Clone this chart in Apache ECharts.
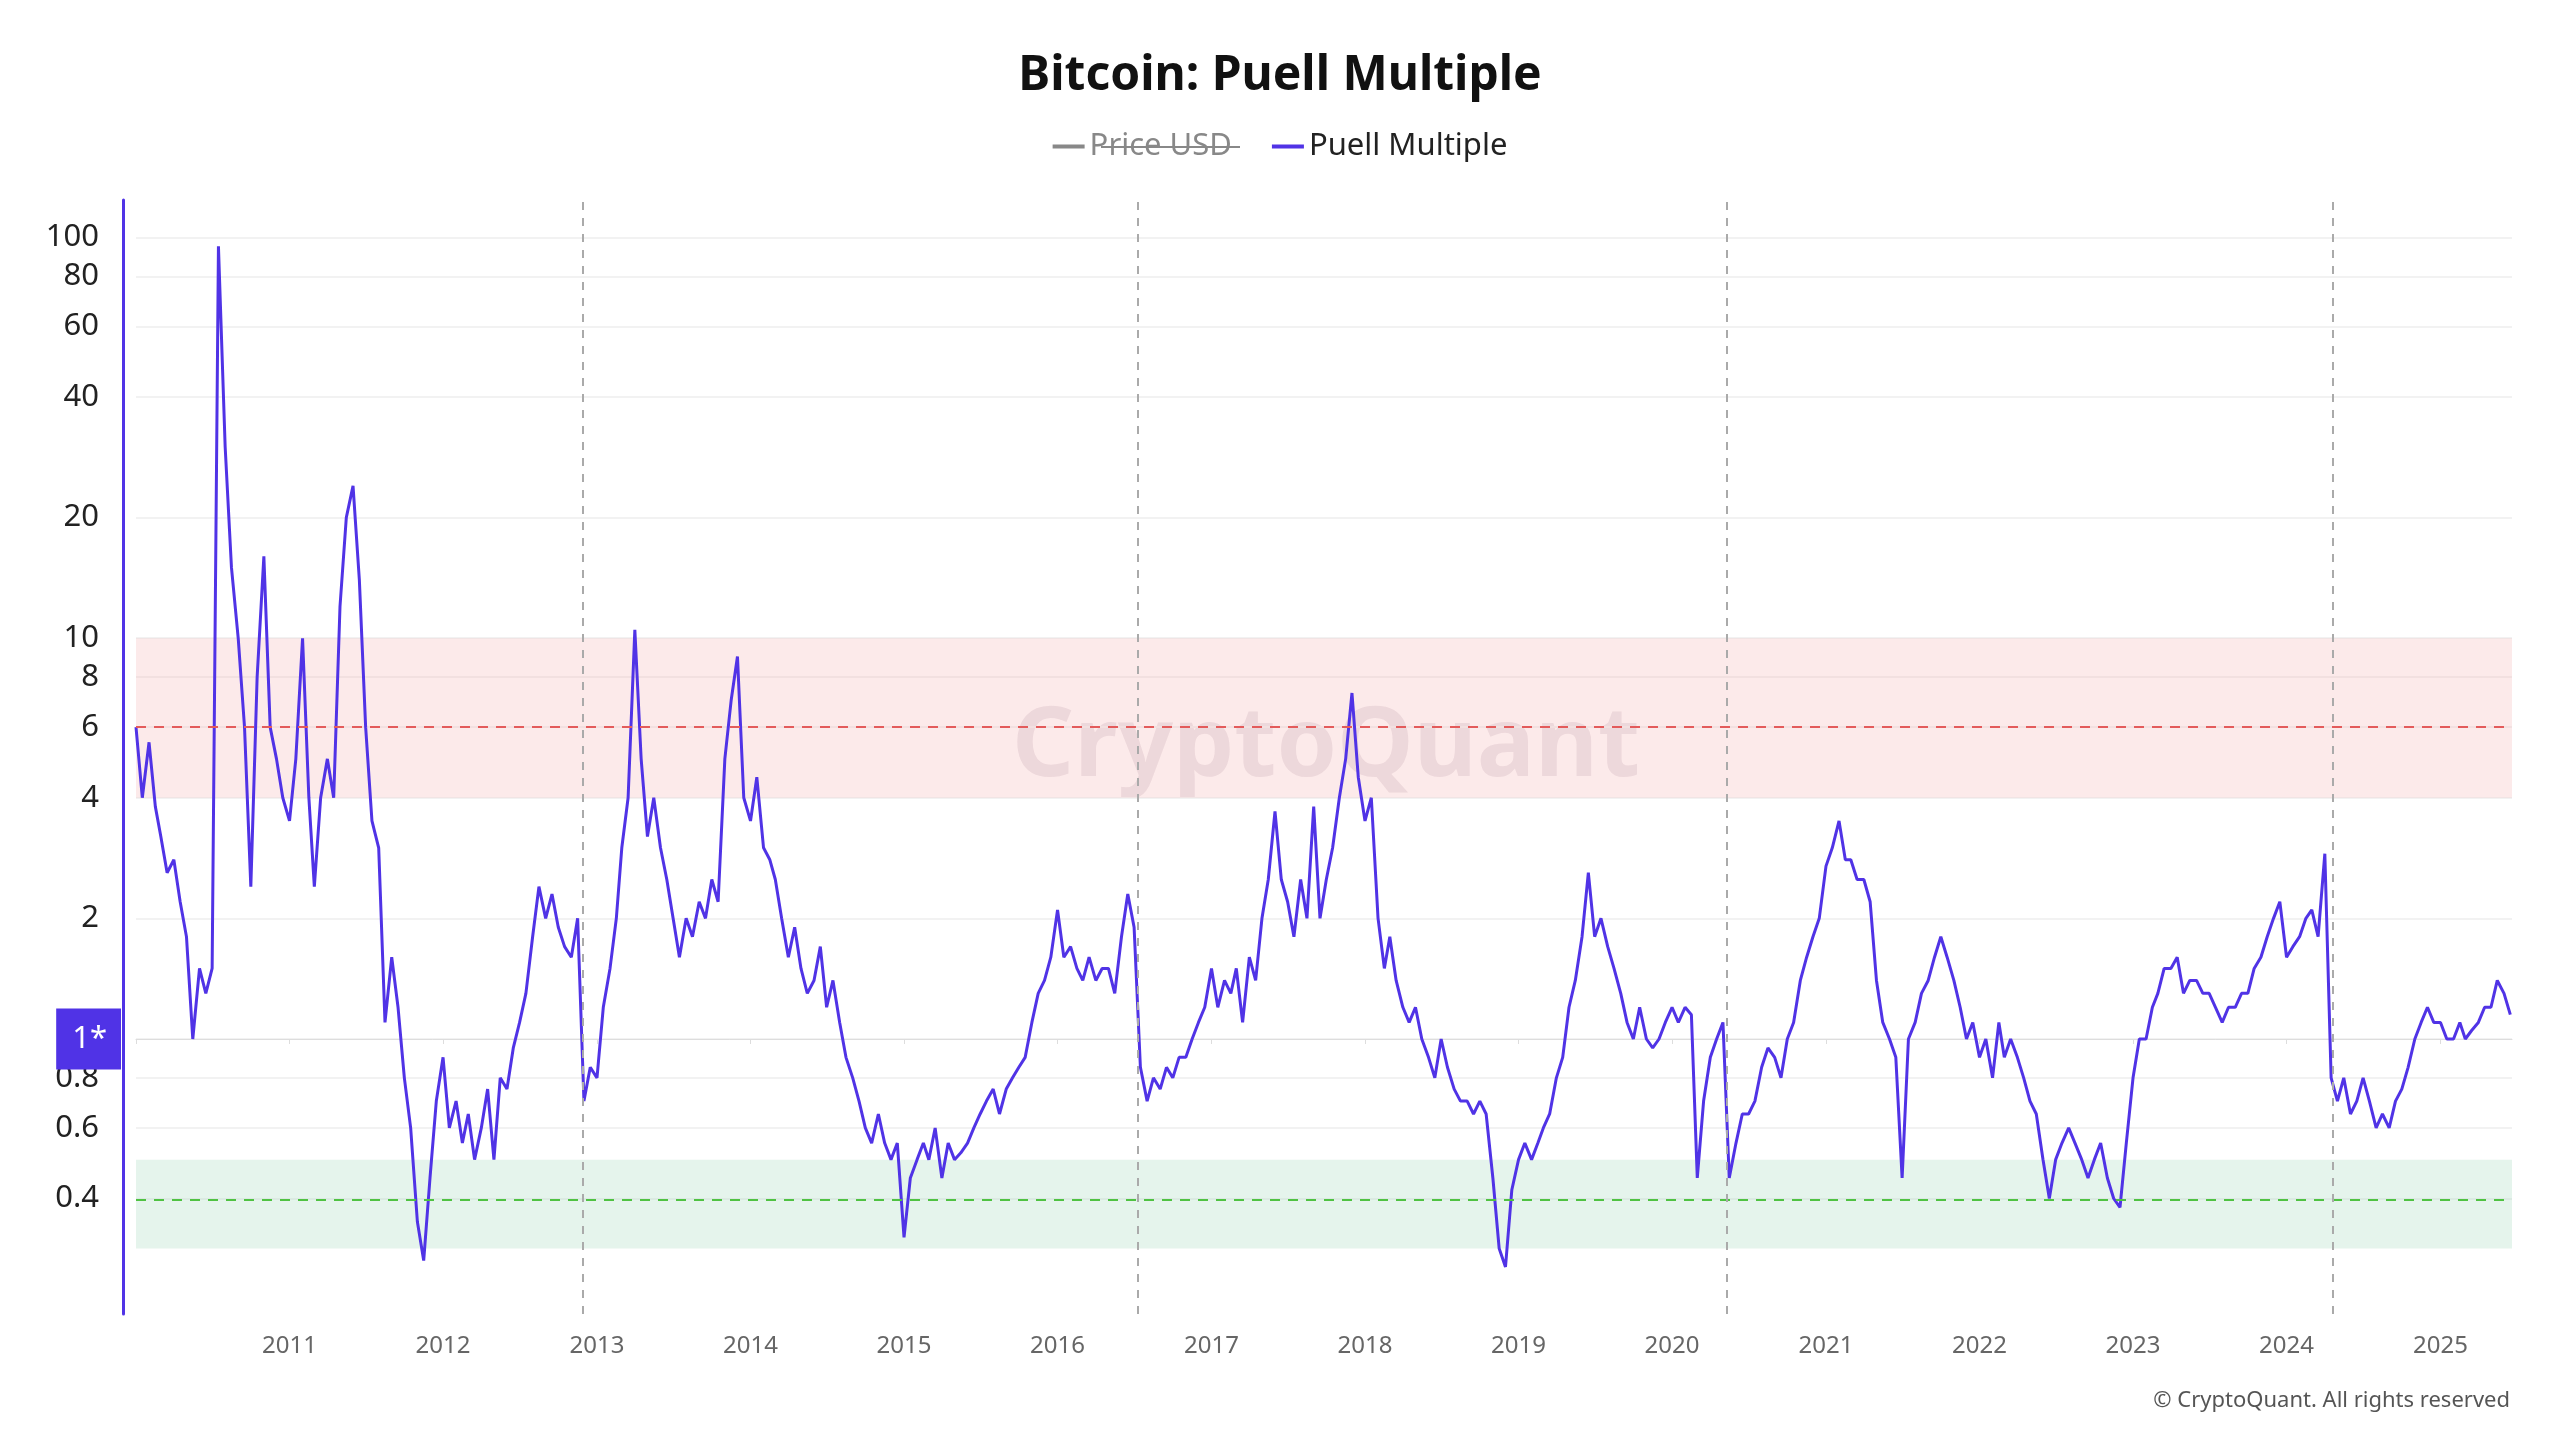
<!DOCTYPE html>
<html><head><meta charset="utf-8">
<script src="https://cdn.jsdelivr.net/npm/echarts@6/dist/echarts.min.js"></script>
<style>html,body{margin:0;padding:0;background:#fff}#c{width:2560px;height:1440px}</style>
</head><body><div id="c"></div>
<script>
// Semi-monthly Puell Multiple readings (1st and 16th of each month), from 2010-01
const puell2010=[6,4,5.5,3.8,3.2,2.6,2.8,2.2,1.8,1.0,1.5,1.3,1.5,95,30,15,10,6,2.4,8,16,6,5,4];
const puell2011=[3.5,5,10,4,2.4,4,5,4,12,20,24,14,6,3.5,3,1.1,1.6,1.2,0.8,0.6,0.35,0.28,0.45,0.7];
const puell2012=[0.9,0.6,0.7,0.55,0.65,0.5,0.6,0.75,0.5,0.8,0.75,0.95,1.1,1.3,1.8,2.4,2.0,2.3,1.9,1.7,1.6,2.0,0.7,0.85];
const puell2013=[0.8,1.2,1.5,2.0,3.0,4.0,10.5,5,3.2,4,3,2.5,2,1.6,2,1.8,2.2,2.0,2.5,2.2,5,7,9,4];
const puell2014=[3.5,4.5,3,2.8,2.5,2,1.6,1.9,1.5,1.3,1.4,1.7,1.2,1.4,1.1,0.9,0.8,0.7,0.6,0.55,0.65,0.55,0.5,0.55];
const puell2015=[0.32,0.45,0.5,0.55,0.5,0.6,0.45,0.55,0.5,0.52,0.55,0.6,0.65,0.7,0.75,0.65,0.75,0.8,0.85,0.9,1.1,1.3,1.4,1.6];
const puell2016=[2.1,1.6,1.7,1.5,1.4,1.6,1.4,1.5,1.5,1.3,1.8,2.3,1.9,0.85,0.7,0.8,0.75,0.85,0.8,0.9,0.9,1.0,1.1,1.2];
const puell2017=[1.5,1.2,1.4,1.3,1.5,1.1,1.6,1.4,2.0,2.5,3.7,2.5,2.2,1.8,2.5,2.0,3.8,2.0,2.5,3.0,4,5,7.3,4.5];
const puell2018=[3.5,4,2.0,1.5,1.8,1.4,1.2,1.1,1.2,1.0,0.9,0.8,1.0,0.85,0.75,0.7,0.7,0.65,0.7,0.65,0.45,0.3,0.27,0.42];
const puell2019=[0.5,0.55,0.5,0.55,0.6,0.65,0.8,0.9,1.2,1.4,1.8,2.6,1.8,2.0,1.7,1.5,1.3,1.1,1.0,1.2,1.0,0.95,1.0,1.1];
const puell2020=[1.2,1.1,1.2,1.15,0.45,0.7,0.9,1.0,1.1,0.45,0.55,0.65,0.65,0.7,0.85,0.95,0.9,0.8,1.0,1.1,1.4,1.6,1.8,2.0];
const puell2021=[2.7,3.0,3.5,2.8,2.8,2.5,2.5,2.2,1.4,1.1,1.0,0.9,0.45,1.0,1.1,1.3,1.4,1.6,1.8,1.6,1.4,1.2,1.0,1.1];
const puell2022=[0.9,1.0,0.8,1.1,0.9,1.0,0.9,0.8,0.7,0.65,0.5,0.4,0.5,0.55,0.6,0.55,0.5,0.45,0.5,0.55,0.45,0.4,0.38,0.55];
const puell2023=[0.8,1.0,1.0,1.2,1.3,1.5,1.5,1.6,1.3,1.4,1.4,1.3,1.3,1.2,1.1,1.2,1.2,1.3,1.3,1.5,1.6,1.8,2.0,2.2];
const puell2024=[1.6,1.7,1.8,2.0,2.1,1.8,2.9,0.8,0.7,0.8,0.65,0.7,0.8,0.7,0.6,0.65,0.6,0.7,0.75,0.85,1.0,1.1,1.2,1.1];
const puell2025=[1.1,1.0,1.0,1.1,1.0,1.05,1.1,1.2,1.2,1.4,1.3,1.15];
const puellByYear=[puell2010,puell2011,puell2012,puell2013,puell2014,puell2015,puell2016,puell2017,puell2018,puell2019,puell2020,puell2021,puell2022,puell2023,puell2024,puell2025];
// Price USD (hidden series, yearly approx)
const priceDates=['2010-07-18','2011-01-01','2012-01-01','2013-01-01','2014-01-01','2015-01-01','2016-01-01','2017-01-01','2018-01-01','2019-01-01','2020-01-01','2021-01-01','2022-01-01','2023-01-01','2024-01-01','2025-01-01'];
const priceValues=[0.08,0.3,5,13,770,315,430,1000,13500,3700,7200,29000,47000,16500,42000,94000];
const yTicks=[0.4,0.6,0.8,1,2,4,6,8,10,20,40,60,80,100];
const halvings=['2012-11-28','2016-07-09','2020-05-11','2024-04-20'];
const bands=[{from:4,to:10,color:'rgba(240,160,160,0.22)'},{from:0.3,to:0.5,color:'rgba(150,210,180,0.25)'}];
const refLines=[{v:6,color:'#e35b5b'},{v:0.4,color:'#4fc242'}];

const puellData=[];
puellByYear.forEach((arr,yi)=>{arr.forEach((v,i)=>{
  const m=Math.floor(i/2)+1, d=i%2?16:1;
  puellData.push([`${2010+yi}-${String(m).padStart(2,'0')}-${String(d).padStart(2,'0')}`,Math.log10(v)]);
});});
const L=Math.log10;
const chart=echarts.init(document.getElementById('c'));
chart.setOption({
  animation:false,
  title:{text:'Bitcoin: Puell Multiple',left:'center',top:47,textStyle:{fontFamily:'Noto Sans',fontSize:48,fontWeight:'bold',color:'#111'}},
  legend:{top:126,left:'center',itemWidth:32,itemHeight:4,itemGap:40,icon:'rect',textStyle:{fontFamily:'Noto Sans',fontSize:31,color:'#222'},inactiveColor:'#888',
    selected:{'Price USD':false},data:['Price USD','Puell Multiple']},
  grid:{left:136,right:48,top:200,bottom:126},
  xAxis:{type:'time',min:'2010-01-01',max:'2025-06-20',minInterval:365*86400000,maxInterval:366*86400000,
    axisLine:{lineStyle:{color:'#ddd'}},axisTick:{show:true,lineStyle:{color:'#ddd'}},
    axisLabel:{fontFamily:'Noto Sans',fontSize:24,color:'#666',margin:20,formatter:v=>{const y=new Date(v).getFullYear();return y===2010?'':String(y);}},
    splitLine:{show:false}},
  yAxis:[{type:'value',min:L(0.206),max:L(124),offset:13,
    axisLine:{show:true,lineStyle:{color:'#5033e6',width:3}},axisTick:{show:false,customValues:yTicks.map(L)},
    axisLabel:{customValues:yTicks.map(L),margin:2,
      formatter:v=>{const x=Math.round(Math.pow(10,v)*10)/10; return x===1?'{b|1*}':'{n|'+x+'}';},
      rich:{n:{fontFamily:'Noto Sans',fontSize:31,color:'#222',padding:[0,22,0,0]},
            b:{fontFamily:'Noto Sans',backgroundColor:'#5033e6',color:'#fff',fontSize:31,padding:[15,14,15,16]}}},
    splitLine:{show:true,lineStyle:{color:'#f2f2f2',width:2}}},
    {type:'log',show:false}],
  series:[
    {name:'Price USD',type:'line',yAxisIndex:1,showSymbol:false,data:priceDates.map((d,i)=>[d,priceValues[i]]),lineStyle:{color:'#999',width:2},itemStyle:{color:'#999'}},
    {name:'Puell Multiple',type:'line',showSymbol:false,data:puellData,lineStyle:{color:'#5033e6',width:3},itemStyle:{color:'#5033e6'},
     markArea:{silent:true,data:bands.map(b=>[{yAxis:L(b.from),itemStyle:{color:b.color}},{yAxis:L(b.to)}])},
     markLine:{silent:true,symbol:'none',label:{show:false},data:[
       ...refLines.map(r=>({yAxis:L(r.v),lineStyle:{color:r.color,type:[10,8],width:2,opacity:1}})),
       ...halvings.map(h=>({xAxis:h,lineStyle:{color:'#aaa',type:[8,8],width:2}}))]}}
  ],
  graphic:[
    {type:'text',left:1012,top:700,z:-1,style:{text:'CryptoQuant',fontFamily:'Noto Sans',fontSize:97,fontWeight:'bold',fill:'rgba(110,70,100,0.13)'}},
    {type:'text',right:50,top:1390,style:{text:'© CryptoQuant. All rights reserved',fontFamily:'Noto Sans',fontSize:22,fill:'#555'}},
    {type:'line',shape:{x1:1101,y1:147,x2:1240,y2:147},style:{stroke:'#888',lineWidth:2}}
  ]
});
</script></body></html>
